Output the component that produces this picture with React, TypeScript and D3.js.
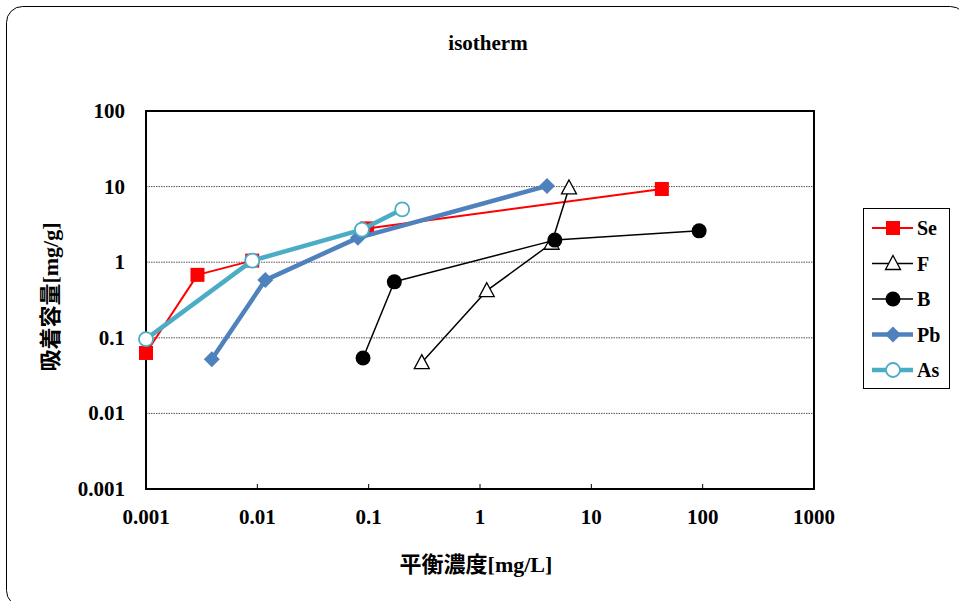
import React from "react";
import * as d3 from "d3";

// [concentration mg/L, capacity mg/g]
const seData: [number, number][] = [
  [0.001, 0.063],
  [0.0029, 0.68],
  [0.009, 1.05],
  [0.097, 2.8],
  [43, 9.3],
];
const fData: [number, number][] = [
  [0.3, 0.047],
  [1.15, 0.42],
  [4.4, 1.78],
  [6.3, 9.6],
];
const bData: [number, number][] = [
  [0.089, 0.054],
  [0.17, 0.55],
  [4.7, 1.96],
  [93, 2.6],
];
const pbData: [number, number][] = [
  [0.0039, 0.052],
  [0.0118, 0.58],
  [0.08, 2.1],
  [4.0, 10.2],
];
const asData: [number, number][] = [
  [0.001, 0.096],
  [0.009, 1.05],
  [0.087, 2.7],
  [0.2, 5.0],
];

const xTicks = [0.001, 0.01, 0.1, 1, 10, 100, 1000];
const yTicks = [0.001, 0.01, 0.1, 1, 10, 100];
const xTickLabels = ["0.001", "0.01", "0.1", "1", "10", "100", "1000"];
const yTickLabels = ["0.001", "0.01", "0.1", "1", "10", "100"];

type Marker = "square" | "triangle" | "circle" | "diamond" | "ocircle";

const series = [
  { name: "Se", data: seData, color: "#FF0000", width: 2, marker: "square" as Marker },
  { name: "F", data: fData, color: "#000000", width: 1.5, marker: "triangle" as Marker },
  { name: "B", data: bData, color: "#000000", width: 1.5, marker: "circle" as Marker },
  { name: "Pb", data: pbData, color: "#4F81BD", width: 4.5, marker: "diamond" as Marker },
  { name: "As", data: asData, color: "#4BACC6", width: 4.5, marker: "ocircle" as Marker },
];

const FONT = '"Liberation Serif", "Noto Sans CJK JP", serif';

const left = 146;
const right = 814;
const top = 111;
const bottom = 489;

const drawMarker = (m: Marker, cx: number, cy: number, color: string, key: string) => {
  switch (m) {
    case "square":
      return <rect key={key} x={cx - 7} y={cy - 7} width={14} height={14} fill={color} />;
    case "triangle":
      return (
        <path
          key={key}
          d={`M${cx},${cy - 8}L${cx + 7.5},${cy + 6}L${cx - 7.5},${cy + 6}Z`}
          fill="#fff"
          stroke="#000"
          strokeWidth={1.3}
        />
      );
    case "circle":
      return <circle key={key} cx={cx} cy={cy} r={7.5} fill="#000" />;
    case "diamond":
      return (
        <path
          key={key}
          d={`M${cx},${cy - 8}L${cx + 8},${cy}L${cx},${cy + 8}L${cx - 8},${cy}Z`}
          fill={color}
        />
      );
    case "ocircle":
      return <circle key={key} cx={cx} cy={cy} r={7} fill="#fff" stroke={color} strokeWidth={1.8} />;
  }
};

const App: React.FC = () => {
  const x = d3.scaleLog().domain([0.001, 1000]).range([left, right]);
  const y = d3.scaleLog().domain([0.001, 100]).range([bottom, top]);

  const line = d3
    .line<[number, number]>()
    .x((d) => x(d[0]))
    .y((d) => y(d[1]));

  const legendX = 872;
  const legendY0 = 228;
  const legendStep = 35.5;

  return (
    <svg
      width={959}
      height={601}
      style={{ position: "absolute", left: 0, top: 0, fontFamily: FONT, fontWeight: "bold" }}
    >
      <rect x={0} y={0} width={959} height={601} fill="#fff" />
      <rect x={6.5} y={6.5} width={960} height={600} rx={16} fill="#fff" stroke="#000" strokeWidth={1} />

      <text x={488} y={50} textAnchor="middle" fontSize={21}>
        isotherm
      </text>

      {/* gridlines */}
      {yTicks.slice(1, -1).map((t) => (
        <line
          key={"g" + t}
          x1={left}
          x2={right}
          y1={y(t)}
          y2={y(t)}
          stroke="#555"
          strokeWidth={1}
          strokeDasharray="1.5,1"
        />
      ))}

      {/* x ticks */}
      {xTicks.slice(1, -1).map((t) => (
        <line key={"xt" + t} x1={x(t)} x2={x(t)} y1={bottom} y2={bottom - 5} stroke="#000" strokeWidth={1} />
      ))}

      <rect x={left} y={top} width={right - left} height={bottom - top} fill="none" stroke="#000" strokeWidth={2} />

      {xTicks.map((t, i) => (
        <text key={"xl" + t} x={x(t)} y={524} textAnchor="middle" fontSize={21}>
          {xTickLabels[i]}
        </text>
      ))}
      {yTicks.map((t, i) => (
        <text key={"yl" + t} x={125} y={y(t) + 7} textAnchor="end" fontSize={21}>
          {yTickLabels[i]}
        </text>
      ))}

      <text x={476} y={572} textAnchor="middle" fontSize={22}>
        平衡濃度[mg/L]
      </text>
      <text transform="translate(58,297) rotate(-90)" textAnchor="middle" fontSize={22}>
        吸着容量[mg/g]
      </text>

      {/* series */}
      {series.map((s) => (
        <g key={s.name}>
          <path d={line(s.data) ?? ""} fill="none" stroke={s.color} strokeWidth={s.width} strokeLinejoin="round" />
          {s.data.map((d, i) => drawMarker(s.marker, x(d[0]), y(d[1]), s.color, s.name + i))}
        </g>
      ))}

      {/* legend */}
      <rect x={863.5} y={208.5} width={86} height={180} fill="#fff" stroke="#000" strokeWidth={1} />
      {series.map((s, i) => {
        const ly = legendY0 + i * legendStep;
        return (
          <g key={"lg" + s.name}>
            <line x1={legendX} x2={legendX + 41} y1={ly} y2={ly} stroke={s.color} strokeWidth={s.width} />
            {drawMarker(s.marker, legendX + 21, ly, s.color, "lm" + s.name)}
            <text x={917} y={ly + 7} fontSize={20}>
              {s.name}
            </text>
          </g>
        );
      })}
    </svg>
  );
};

export default App;
